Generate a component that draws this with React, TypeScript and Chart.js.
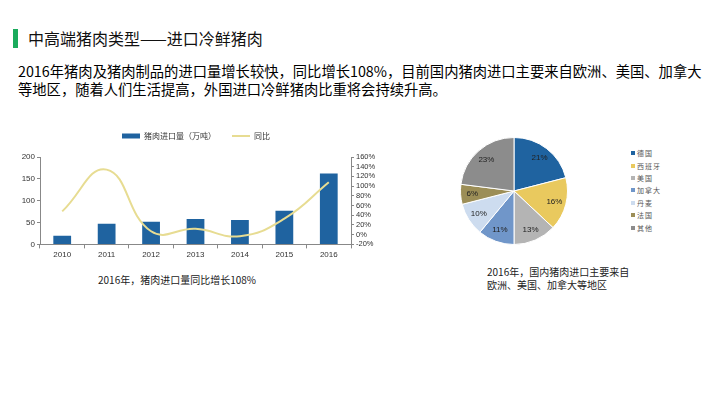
import React, { useEffect, useRef } from 'react';
import { Chart, registerables } from 'chart.js';

Chart.register(...registerables);

// Pork import volume (10k tonnes) and year-on-year growth (%)
const years = ['2010', '2011', '2012', '2013', '2014', '2015', '2016'];
const importVolume = [20, 47, 52, 58, 56, 77, 162];
const yoyGrowth = [48, 134, 7, 12, -3, 33, 108];

// 2016 share of pork imports by origin (%)
const origins = ['德国', '西班牙', '美国', '加拿大', '丹麦', '法国', '其他'];
const originShares = [21, 16, 13, 11, 10, 6, 23];
const originColors = ['#1f63a0', '#e9c95e', '#b4b4b4', '#7096c9', '#cddcef', '#9c8e57', '#8c8c8c'];

const volumeLabel = '猪肉进口量（万吨）';
const growthLabel = '同比';

const tickFont = { family: '"Liberation Sans", Arial, sans-serif', size: 8 };
const cjkFont = '"Noto Sans CJK SC", "Noto Sans", sans-serif';

// Adds extra space beneath the legend row before the plot area starts
const legendGap = {
  id: 'legendGap',
  beforeUpdate(chart: any) {
    const legend = chart.legend;
    if (legend && !legend._gapPatched) {
      const fit = legend.fit;
      legend.fit = function () {
        fit.call(this);
        this.height += 7;
      };
      legend._gapPatched = true;
    }
  },
};

function ImportChart() {
  const ref = useRef<HTMLCanvasElement>(null);
  useEffect(() => {
    const chart = new Chart(ref.current!, {
      type: 'bar',
      data: {
        labels: years,
        datasets: [
          {
            type: 'bar',
            label: volumeLabel,
            data: importVolume,
            yAxisID: 'yLeft',
            backgroundColor: '#1f63a0',
            barPercentage: 0.5,
            categoryPercentage: 0.8,
            order: 2,
          },
          {
            type: 'line',
            label: growthLabel,
            data: yoyGrowth,
            yAxisID: 'yRight',
            borderColor: '#e7dc92',
            borderWidth: 2,
            pointRadius: 0,
            tension: 0.45,
            order: 1,
          },
        ] as any,
      },
      options: {
        animation: false,
        responsive: false,
        maintainAspectRatio: false,
        layout: { padding: 0 },
        plugins: {
          tooltip: { enabled: false },
          legend: {
            display: true,
            position: 'top',
            labels: {
              usePointStyle: true,
              pointStyleWidth: 18,
              boxHeight: 5,
              padding: 16,
              color: '#333',
              font: { family: cjkFont, size: 8 },
              sort: (a: any, b: any) => a.datasetIndex - b.datasetIndex,
              generateLabels: (c: any) => {
                const items = Chart.defaults.plugins.legend.labels.generateLabels(c);
                return items.map((it: any) =>
                  it.datasetIndex === 1
                    ? { ...it, pointStyle: 'line', lineWidth: 2, strokeStyle: '#e7dc92' }
                    : { ...it, pointStyle: 'rect', lineWidth: 0 }
                );
              },
            },
          },
        },
        scales: {
          x: {
            offset: true,
            grid: { display: true, drawOnChartArea: false, offset: true, tickLength: 4, color: '#888' },
            border: { display: true, color: '#888' },
            ticks: { color: '#333', font: tickFont, padding: 2 },
          },
          yLeft: {
            position: 'left',
            min: 0,
            max: 200,
            ticks: { stepSize: 50, autoSkip: false, color: '#333', font: tickFont, padding: 2 },
            grid: { display: true, drawOnChartArea: false, tickLength: 3, color: '#888' },
            border: { display: true, color: '#888' },
            afterFit: (s: any) => { s.width = 30; },
          },
          yRight: {
            position: 'right',
            min: -20,
            max: 160,
            ticks: {
              stepSize: 20,
              autoSkip: false,
              color: '#333',
              font: { ...tickFont, size: 7.5 },
              padding: 2,
              callback: (v: any) => `${v}%`,
            },
            grid: { display: true, drawOnChartArea: false, tickLength: 3, color: '#888' },
            border: { display: true, color: '#888' },
            afterFit: (s: any) => { s.width = 31; },
          },
        },
      } as any,
      plugins: [legendGap],
    });
    return () => chart.destroy();
  }, []);
  return <canvas ref={ref} width={372} height={146} style={{ position: 'absolute', left: 10, top: 116 }} />;
}

// Writes each slice's percentage inside the slice
const sliceLabels = {
  id: 'sliceLabels',
  afterDatasetsDraw(chart: any) {
    const { ctx } = chart;
    const meta = chart.getDatasetMeta(0);
    ctx.save();
    ctx.font = '8px "Liberation Sans", Arial, sans-serif';
    ctx.fillStyle = '#222';
    ctx.textAlign = 'center';
    ctx.textBaseline = 'middle';
    meta.data.forEach((arc: any, i: number) => {
      const { x, y, startAngle, endAngle, outerRadius } = arc.getProps(
        ['x', 'y', 'startAngle', 'endAngle', 'outerRadius'],
        true
      );
      const mid = (startAngle + endAngle) / 2;
      const r = outerRadius * 0.78;
      ctx.fillText(`${originShares[i]}%`, x + Math.cos(mid) * r, y + Math.sin(mid) * r);
    });
    ctx.restore();
  },
};

function OriginPie() {
  const ref = useRef<HTMLCanvasElement>(null);
  useEffect(() => {
    const chart = new Chart(ref.current!, {
      type: 'pie',
      data: {
        labels: origins,
        datasets: [
          {
            data: originShares,
            backgroundColor: originColors,
            borderColor: '#ffffff',
            borderWidth: 1,
          },
        ],
      },
      options: {
        animation: false,
        responsive: false,
        maintainAspectRatio: false,
        layout: { padding: 0 },
        plugins: { legend: { display: false }, tooltip: { enabled: false } },
      },
      plugins: [sliceLabels],
    });
    return () => chart.destroy();
  }, []);
  return <canvas ref={ref} width={108} height={108} style={{ position: 'absolute', left: 460, top: 137 }} />;
}

function OriginLegend() {
  return (
    <div style={{ position: 'absolute', left: 631, top: 147, fontFamily: cjkFont, fontSize: 7, color: '#555' }}>
      {origins.map((name, i) => (
        <div key={name} style={{ height: 12.4, display: 'flex', alignItems: 'center', whiteSpace: 'nowrap', letterSpacing: 1 }}>
          <span style={{ display: 'inline-block', width: 4, height: 4, background: originColors[i], marginRight: 2 }} />
          {name}
        </div>
      ))}
    </div>
  );
}

export default function App() {
  return (
    <div
      style={{
        position: 'fixed',
        left: 0,
        top: 0,
        width: 720,
        height: 405,
        background: '#ffffff',
        overflow: 'hidden',
        fontFamily: cjkFont,
        color: '#1a1a1a',
      }}
    >
      <div style={{ position: 'absolute', left: 13, top: 29, width: 5, height: 19, background: '#1aab5c' }} />
      <div style={{ position: 'absolute', left: 28, top: 27, fontSize: 16, lineHeight: '22px', whiteSpace: 'nowrap', color: '#111' }}>
        中高端猪肉类型——进口冷鲜猪肉
      </div>
      <div
        style={{
          position: 'absolute',
          left: 18,
          top: 62,
          fontSize: 14.3,
          lineHeight: '18px',
          whiteSpace: 'nowrap',
          fontWeight: 400,
          color: '#000',
        }}
      >
        2016年猪肉及猪肉制品的进口量增长较快，同比增长108%，目前国内猪肉进口主要来自欧洲、美国、加拿大
        <br />
        等地区，随着人们生活提高，外国进口冷鲜猪肉比重将会持续升高。
      </div>
      <ImportChart />
      <div style={{ position: 'absolute', left: 98, top: 273, fontSize: 10, lineHeight: '14px', whiteSpace: 'nowrap', color: '#222' }}>
        2016年，猪肉进口量同比增长108%
      </div>
      <OriginPie />
      <OriginLegend />
      <div style={{ position: 'absolute', left: 487, top: 265, fontSize: 10, lineHeight: '13px', whiteSpace: 'nowrap', color: '#222' }}>
        2016年，国内猪肉进口主要来自
        <br />
        欧洲、美国、加拿大等地区
      </div>
    </div>
  );
}
